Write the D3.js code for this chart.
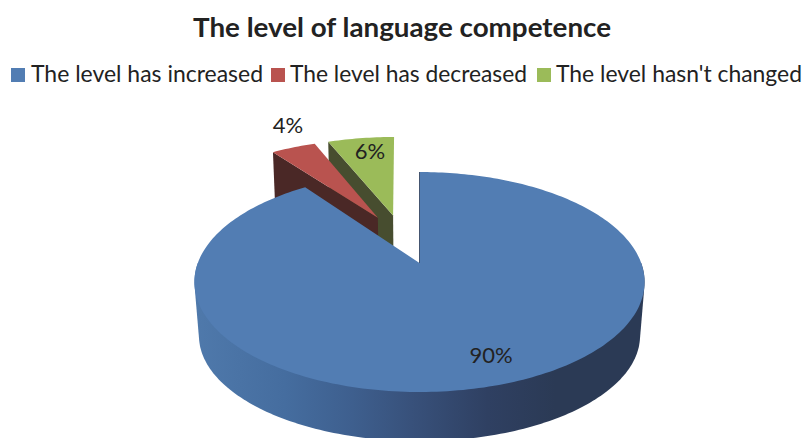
<!DOCTYPE html>
<html>
<head>
<meta charset="utf-8">
<script src="https://cdnjs.cloudflare.com/ajax/libs/d3/7.8.5/d3.min.js"></script>
<style>
html, body { margin: 0; padding: 0; background: #fff; }
svg { display: block; }
text { font-family: Lato, "Open Sans", sans-serif; fill: #222; }
</style>
</head>
<body>
<div id="chart"></div>
<script>
var categories = ["The level has increased", "The level has decreased", "The level hasn't changed"];
var percents = [90, 4, 6];
var colors = ["#527db3", "#b9534f", "#9bbb59"];
var wallColors = ["#2b3a55", "#4a2826", "#474d2f"];

var width = 806, height = 438;
var svg = d3.select("#chart").append("svg")
    .attr("width", width)
    .attr("height", height);

// perspective constants, fitted to the picture (blue slice tip is the origin)
var ox = 419.5, oy = 263, bx = 221.7, ay = 106.7, ayLow = 95, persp = 0.1727, depth = 56, sink = 0.02;
var explode = 0.25, tipShift = 0.015;

function project(u, v, h) {
    var w = 1 + persp * v + sink * h;
    var a = ay + (ayLow - ay) * h;
    return [ox + bx * u / w, oy + (-a * v + depth * h) / w];
}

var slices = d3.pie().sort(null).value(function(d) { return d; })(percents);

function dir(a) { return [Math.sin(a), Math.cos(a)]; }
function mid(s) { return (s.startAngle + s.endAngle) / 2; }

// every slice is pulled out from the pie centre, blue one stays at the origin
var blueDir = dir(mid(slices[0]));
slices.forEach(function(s) {
    var d = dir(mid(s));
    s.off = [explode * (d[0] - blueDir[0]) - 0.02, explode * (d[1] - blueDir[1])];
    s.shift = tipShift;
});
slices[0].off = [0, 0];
slices[0].shift = 0;

function rimPoint(s, a, h) {
    var d = dir(a);
    return project(s.off[0] + d[0], s.off[1] + d[1], h);
}
function tip(s, h) { return project(s.off[0] + s.shift, s.off[1], h); }

function arcAngles(a0, a1) {
    var n = Math.max(2, Math.ceil((a1 - a0) / 0.02));
    return d3.range(n + 1).map(function(i) { return a0 + (a1 - a0) * i / n; });
}

var line = d3.line();

function topPath(s) {
    var pts = arcAngles(s.startAngle, s.endAngle).map(function(a) { return rimPoint(s, a, 0); });
    pts.push(tip(s, 0));
    return line(pts) + "Z";
}

var defs = svg.append("defs");
var grad = defs.append("linearGradient")
    .attr("id", "blueWall")
    .attr("gradientUnits", "userSpaceOnUse")
    .attr("x1", 195).attr("x2", 645).attr("y1", 0).attr("y2", 0);
[[0, "#4f79ab"], [0.2, "#456d9f"], [0.35, "#3e5f8e"], [0.5, "#374f78"], [0.65, "#2f4062"], [0.8, "#2b3a55"], [1, "#2b3a55"]]
    .forEach(function(d) {
        grad.append("stop").attr("offset", d[0]).attr("stop-color", d[1]);
    });

var pie = svg.append("g");

// back to front: green, red, blue
[2, 1].forEach(function(i) {
    var s = slices[i];
    // cut face on the side of the start angle
    var face = [rimPoint(s, s.startAngle, 0), tip(s, 0), tip(s, 1), rimPoint(s, s.startAngle, 1)];
    pie.append("path").attr("d", line(face) + "Z").attr("fill", wallColors[i]);
    pie.append("path").attr("d", topPath(s)).attr("fill", colors[i]);
});

// blue outer wall, hull of both front rims so the sides run straight
var blue = slices[0];
var wallAngles = arcAngles(Math.PI * 0.5, Math.PI * 1.5);
var wallPts = wallAngles.map(function(a) { return rimPoint(blue, a, 0); })
    .concat(wallAngles.map(function(a) { return rimPoint(blue, a, 1); }));
pie.append("path").attr("d", line(d3.polygonHull(wallPts)) + "Z").attr("fill", "url(#blueWall)");
pie.append("path").attr("d", topPath(blue)).attr("fill", colors[0]);
// cut face at 0 degrees is seen edge on
pie.append("path")
    .attr("d", line([rimPoint(blue, 0, 0), tip(blue, 0)]))
    .attr("stroke", wallColors[0]).attr("stroke-width", 0.8).attr("fill", "none");

// value labels
var labelX = [491, 288, 370], labelY = [354, 124, 150];
svg.append("g").selectAll("text")
    .data(slices)
    .enter().append("text")
    .attr("text-anchor", "middle")
    .attr("dominant-baseline", "central")
    .attr("font-size", 22)
    .attr("x", function(s, i) { return labelX[i]; })
    .attr("y", function(s, i) { return labelY[i]; })
    .text(function(s) { return s.data + "%"; });

// title
svg.append("text")
    .attr("x", 402).attr("y", 37)
    .attr("text-anchor", "middle")
    .attr("font-size", 26)
    .attr("font-weight", 700)
    .attr("textLength", 418)
    .attr("lengthAdjust", "spacingAndGlyphs")
    .text("The level of language competence");

// legend
var legendX = [11, 271, 537];
var legendW = [232, 237, 246];
var legend = svg.append("g").selectAll("g")
    .data(categories)
    .enter().append("g")
    .attr("transform", function(d, i) { return "translate(" + legendX[i] + ",0)"; });
legend.append("rect")
    .attr("y", 68).attr("width", 14).attr("height", 14)
    .attr("fill", function(d, i) { return colors[i]; });
legend.append("text")
    .attr("x", function(d, i) { return i ? 19 : 20; })
    .attr("y", 82)
    .attr("font-size", 23)
    .attr("textLength", function(d, i) { return legendW[i]; })
    .attr("lengthAdjust", "spacingAndGlyphs")
    .text(function(d) { return d; });
</script>
</body>
</html>
